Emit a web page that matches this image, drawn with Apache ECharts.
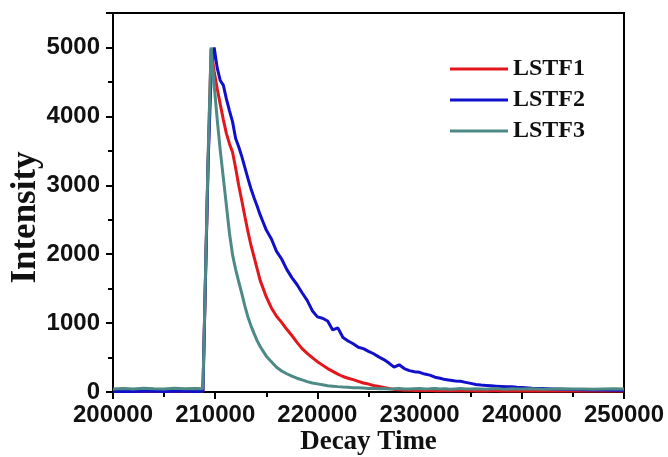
<!DOCTYPE html>
<html>
<head>
<meta charset="utf-8">
<script src="https://cdn.jsdelivr.net/npm/echarts@6/dist/echarts.min.js"></script>
<style>
  html, body { margin: 0; padding: 0; background: #fff; }
  #chart { width: 668px; height: 457px; }
</style>
</head>
<body>
<div id="chart"></div>
<script>
// decay time (x) shared by all three traces
const times = [
  200000, 201000, 202000, 203000, 204000, 205000, 206000, 207000, 208000, 208800,
  209300, 209600, 209900, 210200, 210500, 210800, 211100, 211400, 211700, 212000,
  212300, 212600, 212900, 213200, 213500, 213800, 214100, 214400, 214700, 215000,
  215500, 216000, 216500, 217000, 217500, 218000, 218500, 219000, 219500, 220000,
  220500, 221000, 221500, 222000, 222500, 223000, 223500, 224000, 224500, 225000,
  225500, 226000, 226500, 227000, 227500, 228000, 228500, 229000, 229500, 230000,
  230500, 231000, 231500, 232000, 232500, 233000, 233500, 234000, 234500, 235000,
  235500, 236000, 236500, 237000, 237500, 238000, 238500, 239000, 239500, 240000,
  241000, 242000, 243000, 244000, 245000, 246000, 247000, 248000, 249000, 250000
]

const lstf1 = [
  12, 10, 14, 11, 13, 10, 12, 11, 13, 12,
  3300, 4980, 4650, 4400, 4170, 3950, 3750, 3600, 3480, 3250,
  3000, 2780, 2550, 2330, 2130, 1960, 1790, 1620, 1500, 1380,
  1220, 1100, 1010, 910, 820, 720, 630, 560, 500, 440,
  390, 340, 300, 260, 225, 200, 180, 155, 130, 115,
  95, 80, 65, 50, 38, 32, 26, 28, 22, 25,
  20, 24, 18, 22, 19, 21, 17, 20, 18, 22,
  16, 19, 15, 18, 20, 16, 14, 18, 15, 17,
  15, 18, 14, 16, 13, 17, 15, 14, 16, 15
]

const lstf2 = [
  8, 10, 9, 12, 10, 9, 11, 10, 9, 10,
  3300, 4600, 5000, 4700, 4520, 4450, 4250, 4080, 3920, 3680,
  3560, 3420, 3260, 3100, 2950, 2820, 2700, 2570, 2460, 2350,
  2220, 2040, 1930, 1780, 1660, 1560, 1440, 1330, 1180, 1090,
  1070, 1030, 900, 930, 790, 740, 700, 650, 630, 590,
  555, 510, 470, 420, 360, 395, 340, 310, 295, 285,
  260, 245, 215, 200, 180, 170, 160, 155, 140, 125,
  110, 100, 95, 90, 85, 80, 75, 78, 70, 65,
  55, 50, 45, 40, 38, 32, 30, 28, 26, 25
]

const lstf3 = [
  45, 52, 42, 55, 48, 44, 53, 46, 50, 48,
  3400, 5000, 4450, 3950, 3500, 3100, 2700, 2300, 1990, 1780,
  1600, 1430, 1250, 1090, 960, 850, 745, 660, 590, 520,
  440, 360, 305, 265, 230, 200, 175, 150, 130, 118,
  105, 92, 85, 78, 72, 68, 62, 60, 57, 52,
  55, 48, 50, 44, 47, 52, 45, 42, 48, 50,
  44, 46, 52, 43, 47, 40, 45, 50, 44, 42,
  47, 44, 40, 46, 50, 43, 41, 47, 45, 42,
  46, 40, 44, 48, 42, 45, 40, 44, 47, 42
]

const seriesNames = ['LSTF1', 'LSTF2', 'LSTF3']
const seriesValues = [lstf1, lstf2, lstf3]
const colors = ['#e3161c', '#1010cc', '#4d8985']

const sansBold = { fontFamily: 'Liberation Sans, Arial, sans-serif', fontWeight: 'bold', fontSize: 24, color: '#111' }
const serifBold = { fontFamily: 'Liberation Serif, Times New Roman, serif', fontWeight: 'bold', color: '#111' }

const plain = (v) => String(v)

const chart = echarts.init(document.getElementById('chart'))

const option = {
  animation: false,
  backgroundColor: '#fff',
  grid: {
    left: 113,
    top: 13,
    width: 511,
    height: 379,
    outerBoundsMode: 'none',
    containLabel: false,
    show: true,
    borderColor: '#000',
    borderWidth: 2,
  },
  legend: {
    orient: 'vertical',
    left: 445,
    top: 52,
    icon: 'rect',
    itemWidth: 58,
    itemHeight: 3,
    itemGap: 7,
    textStyle: { ...serifBold, fontSize: 24, lineHeight: 23 },
    data: seriesNames,
  },
  xAxis: {
    type: 'value',
    min: 200000,
    max: 250000,
    interval: 10000,
    name: 'Decay Time',
    nameLocation: 'middle',
    nameGap: 37,
    nameMoveOverlap: false,
    nameTextStyle: { ...serifBold, fontSize: 27 },
    axisLine: { lineStyle: { color: '#000', width: 2 } },
    axisTick: { length: 7, lineStyle: { color: '#000', width: 2 } },
    minorTick: { show: true, splitNumber: 2, length: 5, lineStyle: { color: '#000', width: 2 } },
    axisLabel: { ...sansBold, margin: 11, formatter: plain },
    splitLine: { show: false },
  },
  yAxis: {
    type: 'value',
    min: 0,
    max: 5500,
    interval: 1000,
    name: 'Intensity',
    nameLocation: 'middle',
    nameGap: 70,
    nameMoveOverlap: false,
    nameTextStyle: { ...serifBold, fontSize: 35, padding: [0, 30, 0, 0] },
    axisLine: { lineStyle: { color: '#000', width: 2 } },
    axisTick: { length: 7, lineStyle: { color: '#000', width: 2 } },
    minorTick: { show: true, splitNumber: 2, length: 5, lineStyle: { color: '#000', width: 2 } },
    axisLabel: { ...sansBold, margin: 13, showMaxLabel: false, formatter: plain },
    splitLine: { show: false },
  },
  series: seriesNames.map((name, i) => ({
    name: name,
    type: 'line',
    showSymbol: false,
    symbol: 'none',
    color: colors[i],
    lineStyle: { width: 3, color: colors[i] },
    data: times.map((t, j) => [t, seriesValues[i][j]]),
  })),
}

chart.setOption(option)
</script>
</body>
</html>
